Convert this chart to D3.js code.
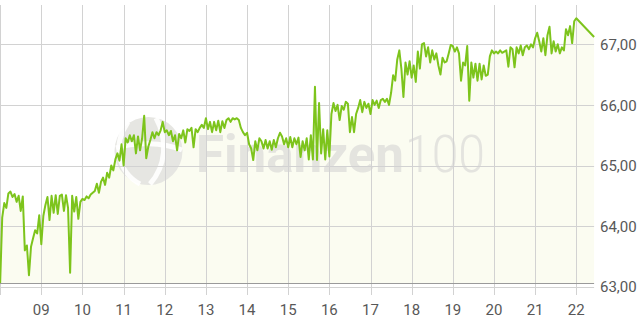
<!DOCTYPE html>
<html>
<head>
<meta charset="utf-8">
<script src="https://cdn.jsdelivr.net/npm/d3@7"></script>
<style>
  html, body { margin: 0; padding: 0; background: #ffffff; }
  svg { display: block; }
</style>
</head>
<body>
<div id="chart"></div>
<script>
// ---------- data ----------
const startHour = 8;          // first quote 08:00
const stepMinutes = 3;        // one quote every 3 minutes until 22:00
const prices = [
  63.06,64.14,64.38,64.30,64.54,64.57,64.48,64.53,64.40,64.50,
  64.25,64.49,63.60,63.68,63.19,63.66,63.80,63.93,63.88,64.18,
  63.70,64.17,64.35,64.48,64.10,64.50,64.22,64.51,64.20,64.50,
  64.52,64.25,64.51,64.30,63.23,64.50,64.24,64.48,64.12,64.40,
  64.45,64.43,64.49,64.46,64.52,64.55,64.58,64.70,64.55,64.73,
  64.80,64.68,64.88,64.80,65.00,64.92,65.10,65.20,65.08,65.35,
  65.00,65.45,65.38,65.50,65.40,65.50,65.20,65.48,65.25,65.45,
  65.82,65.12,65.31,65.42,65.55,65.45,65.55,65.50,65.58,65.72,
  65.55,65.58,65.50,65.57,65.40,65.50,65.25,65.52,65.45,65.58,
  65.38,65.60,65.57,65.62,65.30,65.60,65.55,65.62,65.67,65.62,
  65.78,65.60,65.72,65.55,65.72,65.58,65.74,65.55,65.73,65.62,
  65.75,65.78,65.72,65.78,65.76,65.78,65.75,65.62,65.55,65.50,
  65.54,65.35,65.28,65.09,65.40,65.25,65.45,65.40,65.28,65.42,
  65.28,65.40,65.26,65.42,65.30,65.45,65.54,65.48,65.35,65.45,
  65.30,65.47,65.30,65.45,65.35,65.46,65.14,65.40,65.25,65.45,
  65.10,65.50,65.10,66.30,65.09,66.03,65.20,65.60,65.10,65.58,
  65.15,65.85,66.03,65.90,66.00,65.75,65.98,65.92,66.05,66.02,
  65.55,65.80,65.55,65.85,65.95,66.08,65.88,66.05,65.95,66.02,
  65.85,66.08,66.00,66.07,65.95,66.08,66.10,66.05,66.10,66.00,
  66.20,66.49,66.40,66.75,66.90,66.60,66.13,66.70,66.50,66.72,
  66.45,66.65,66.38,66.88,66.60,67.00,67.02,66.80,66.95,66.70,
  66.90,66.75,66.85,66.65,66.50,66.78,66.70,66.72,66.85,66.99,
  66.97,66.88,66.95,66.85,66.40,66.70,66.65,66.97,66.07,66.70,
  66.45,66.68,66.40,66.68,66.42,66.65,66.48,66.50,66.80,66.90,
  66.85,66.88,66.85,66.90,66.86,66.88,66.90,66.63,66.95,66.92,
  66.62,66.95,66.85,66.98,66.82,66.95,66.98,66.92,67.00,66.95,
  67.10,67.19,67.05,66.88,67.10,66.82,67.15,67.29,66.85,67.05,
  66.88,67.00,66.85,66.95,66.90,67.25,67.15,67.30,67.02,67.38,
  67.43
];
const lastTime = 22 + 26 / 60;  // last quote 22:26
const lastPrice = 67.12;

const gridHours = [8, 9, 10, 11, 12, 13, 14, 15, 16, 17, 18, 19, 20, 21, 22];
const xTickHours = [9, 10, 11, 12, 13, 14, 15, 16, 17, 18, 19, 20, 21, 22];
const xTickLabels = ["09","10","11","12","13","14","15","16","17","18","19","20","21","22"];
const yTicks = [63, 64, 65, 66, 67];
const yTickLabels = ["63,00","64,00","65,00","66,00","67,00"];

// ---------- layout ----------
const W = 640, H = 320;
const plotLeft = 0.15, plotRight = 594.1, plotTop = 5, plotBottom = 283;

const series = prices.map((p, i) => ({ t: startHour + i * stepMinutes / 60, v: p }));
series.push({ t: lastTime, v: lastPrice });

const x = d3.scaleLinear().domain([8, lastTime]).range([plotLeft, plotRight]);
const y = d3.scaleLinear().domain([63, 67]).range([286.7, 44.3]);

const svg = d3.select("#chart").append("svg")
  .attr("width", W).attr("height", H)
  .style("font-family", "Roboto, 'Open Sans', sans-serif");

svg.append("rect").attr("width", W).attr("height", H).attr("fill", "#ffffff");

// area fill
const area = d3.area()
  .x(d => x(d.t))
  .y0(plotBottom)
  .y1(d => y(d.v));
svg.append("path").datum(series)
  .attr("d", area)
  .attr("fill", "#fbfcf1");

// watermark
const wm = svg.append("g").attr("class", "watermark");
wm.append("circle").attr("cx", 148.5).attr("cy", 151).attr("r", 34).attr("fill", "#e6e6e2");
wm.append("path")
  .attr("d", "M 128 122 C 112 145, 118 172, 140 184")
  .attr("fill", "none").attr("stroke", "#ffffff").attr("stroke-width", 5).attr("opacity", 0.9);
wm.append("path")
  .attr("d", "M 156 118 C 168 140, 166 166, 150 184")
  .attr("fill", "none").attr("stroke", "#ffffff").attr("stroke-width", 5).attr("opacity", 0.9);
wm.append("path")
  .attr("d", "M 116 148 C 135 142, 162 142, 182 150")
  .attr("fill", "none").attr("stroke", "#ffffff").attr("stroke-width", 5).attr("opacity", 0.9);
wm.append("text")
  .attr("x", 196).attr("y", 172)
  .attr("font-size", 52).attr("font-weight", 700)
  .attr("fill", "#e4e4df")
  .attr("textLength", 208).attr("lengthAdjust", "spacingAndGlyphs")
  .text("Finanzen");
wm.append("text")
  .attr("x", 405).attr("y", 172)
  .attr("font-size", 52).attr("font-weight", 300)
  .attr("fill", "#e4e4df")
  .attr("textLength", 80).attr("lengthAdjust", "spacingAndGlyphs")
  .text("100");

// grid
const grid = svg.append("g");
grid.selectAll("line.v").data(gridHours).join("line")
  .attr("x1", d => Math.round(x(d)) + 0.5).attr("x2", d => Math.round(x(d)) + 0.5)
  .attr("y1", plotTop).attr("y2", 295)
  .attr("stroke", "#d2d2d2").attr("stroke-width", 1);
grid.selectAll("line.h").data(yTicks).join("line")
  .attr("x1", 0).attr("x2", plotRight)
  .attr("y1", d => Math.round(y(d)) + 0.5).attr("y2", d => Math.round(y(d)) + 0.5)
  .attr("stroke", "#d2d2d2").attr("stroke-width", 1);
// bottom axis line
svg.append("line")
  .attr("x1", 0).attr("x2", plotRight)
  .attr("y1", plotBottom + 0.5).attr("y2", plotBottom + 0.5)
  .attr("stroke", "#9a9a9a").attr("stroke-width", 1);

// price line
const line = d3.line().x(d => x(d.t)).y(d => y(d.v));
svg.append("path").datum(series)
  .attr("d", line)
  .attr("fill", "none")
  .attr("stroke", "#7dc41c")
  .attr("stroke-width", 2)
  .attr("stroke-linejoin", "round");

// labels
svg.append("g").selectAll("text").data(xTickHours).join("text")
  .attr("x", d => x(d)).attr("y", 315)
  .attr("text-anchor", "middle")
  .attr("font-size", 15).attr("fill", "#585858")
  .text((d, i) => xTickLabels[i]);
svg.append("g").selectAll("text").data(yTicks).join("text")
  .attr("x", 600).attr("y", d => y(d)).attr("dy", "0.38em")
  .attr("font-size", 15).attr("fill", "#585858")
  .text((d, i) => yTickLabels[i]);
</script>
</body>
</html>
